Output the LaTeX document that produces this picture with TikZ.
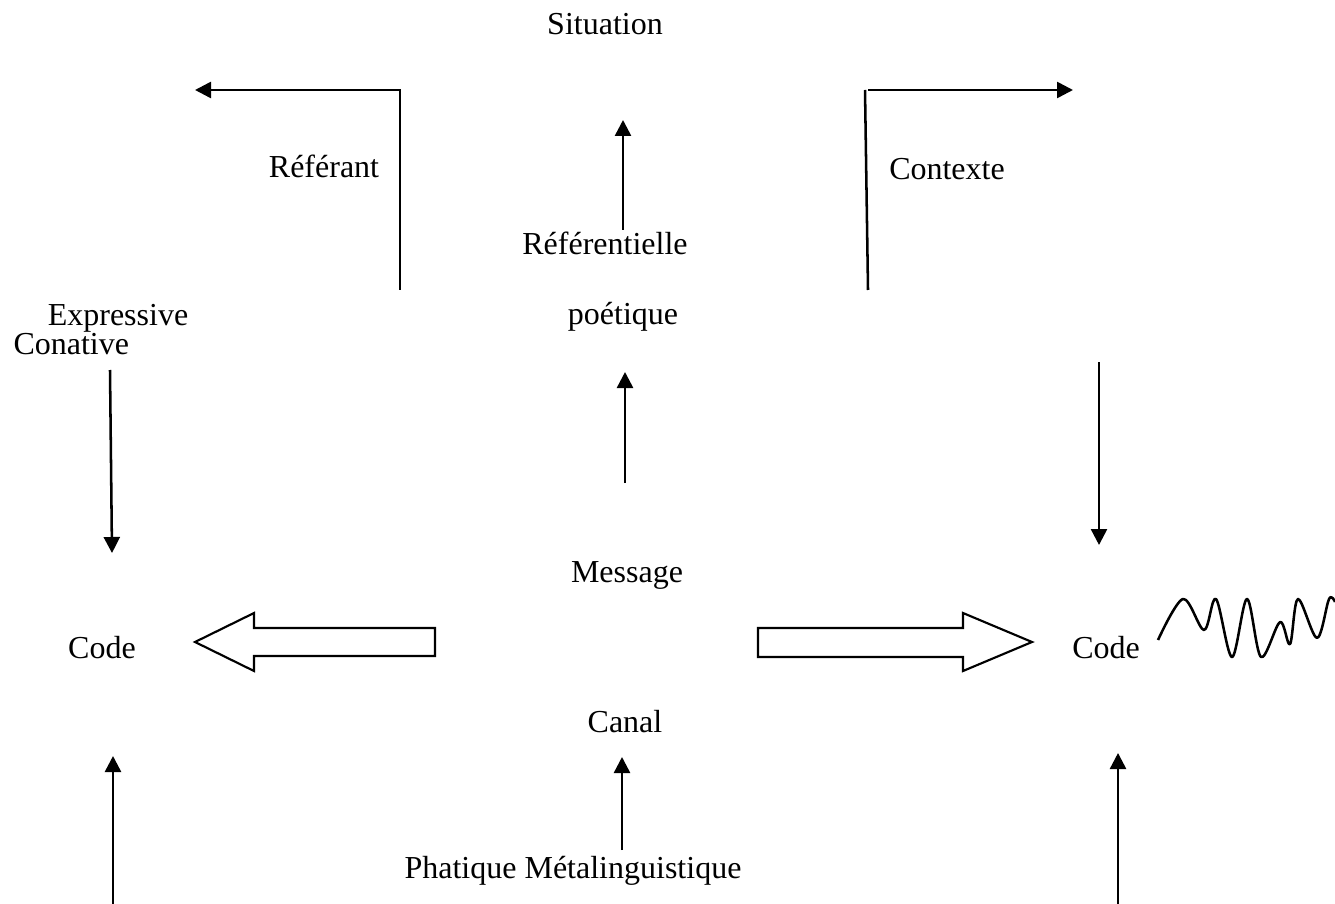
\documentclass[tikz,border=0pt,12pt]{standalone}
\usepackage{fontspec}
\setmainfont{Liberation Serif}
\usetikzlibrary{arrows.meta}

\tikzset{
  lbl/.style={anchor=base, inner sep=0pt},
  conn/.style={line width=0.95pt, -{Triangle[length=6pt,width=6pt]}},
  wire/.style={line width=0.95pt},
  hollow/.style={line width=0.8pt, line join=miter, fill=white}
}

\begin{document}
\begin{tikzpicture}[x=0.375pt, y=-0.375pt]
   \useasboundingbox (0,0) rectangle (1335,904);

   % labels
   \node[lbl] (situation) at (605,35) {Situation};
   \node[lbl] (referant) at (324,178) {Référant};
   \node[lbl] (contexte) at (947,180) {Contexte};
   \node[lbl] (referentielle) at (605,255) {Référentielle};
   \node[lbl] (expressive) at (118,326) {Expressive};
   \node[lbl, anchor=base west] (conative) at (13,355) {Conative};
   \node[lbl] (poetique) at (623,325) {poétique};
   \node[lbl] (message) at (627,582) {Message};
   \node[lbl] (codeL) at (102,658) {Code};
   \node[lbl] (codeR) at (1106,658) {Code};
   \node[lbl] (canal) at (625,732) {Canal};
   \node[lbl] (phatique) at (573,878) {Phatique Métalinguistique};

   % free ends of the connectors
   \coordinate (refFoot) at (400,290);
   \coordinate (refCorner) at (400,90);
   \coordinate (refTip) at (195,90);
   \coordinate (ctxFoot) at (868,290);
   \coordinate (ctxCorner) at (865,90);
   \coordinate (ctxTip) at (1073,90);
   \coordinate (sitFoot) at (623,230);
   \coordinate (sitTip) at (623,120);
   \coordinate (poeFoot) at (625,483);
   \coordinate (poeTip) at (625,372);
   \coordinate (conTop) at (110,370);
   \coordinate (conTip) at (112,553);
   \coordinate (ctxTop) at (1099,362);
   \coordinate (ctxDown) at (1099,545);
   \coordinate (canFoot) at (622,850);
   \coordinate (canTip) at (622,757);
   \coordinate (botL) at (113,904);
   \coordinate (botLTip) at (113,756);
   \coordinate (botR) at (1118,904);
   \coordinate (botRTip) at (1118,753);

   % the two corners
   \draw[conn] (refFoot) -- (refCorner) -- (refTip);
   \draw[wire] (ctxFoot) -- (ctxCorner);
   \draw[conn] (ctxCorner) ++(3,0) -- (ctxTip);

   % straight arrows
   \draw[conn] (sitFoot) -- (sitTip);
   \draw[conn] (poeFoot) -- (poeTip);
   \draw[conn] (conTop) -- (conTip);
   \draw[conn] (ctxTop) -- (ctxDown);
   \draw[conn] (canFoot) -- (canTip);
   \draw[conn] (botL) -- (botLTip);
   \draw[conn] (botR) -- (botRTip);

   % block arrows
   \draw[hollow] (435,628) -- (254,628) -- (254,613) -- (195,642)
      -- (254,671) -- (254,656) -- (435,656) -- cycle;
   \draw[hollow] (758,628) -- (963,628) -- (963,613) -- (1032,642)
      -- (963,671) -- (963,657) -- (758,657) -- cycle;

   % wave
   \draw[wire, line join=round] plot[smooth, tension=0.55] coordinates {
      (1158,640) (1183,599) (1204,630) (1216,599) (1232,657) (1247,599)
      (1261,657) (1280,622) (1290,644) (1298,599) (1317,638) (1329,599)
      (1335,602)};

 \end{tikzpicture}
\end{document}
